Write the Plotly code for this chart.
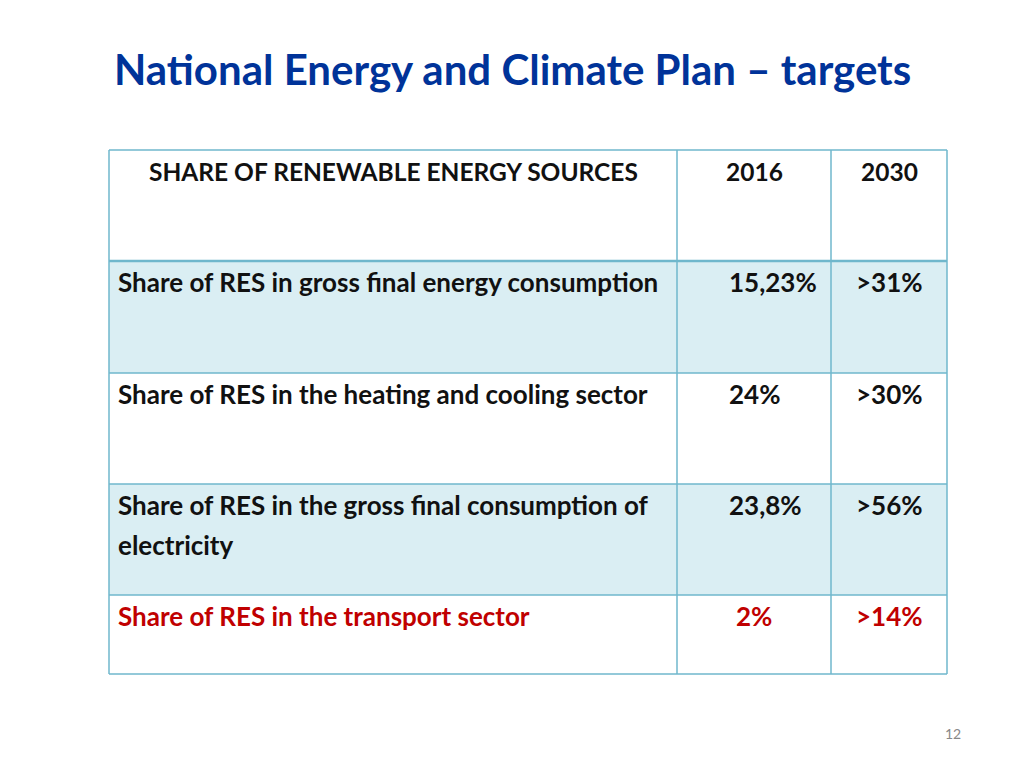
import plotly.graph_objects as go

# ---- data ----
title_text = "National Energy and Climate Plan – targets"
header_labels = ["SHARE OF RENEWABLE ENERGY SOURCES", "2016", "2030"]
categories = [
    "Share of RES in gross final energy consumption",
    "Share of RES in the heating and cooling sector",
    "Share of RES in the gross final consumption of<br>electricity",
    "Share of RES in the transport sector",
]
values_2016 = ["15,23%", "24%", "23,8%", "2%"]
values_2030 = [">31%", ">30%", ">56%", ">14%"]
highlight = [False, False, False, True]
page_number = "12"

# ---- layout constants ----
W, H = 1024, 768
OFF = 8  # default page body margin
col_edges = [109, 677, 831, 947]
row_heights = [111, 112, 111, 111, 79]
top = 150
row_edges = [top]
for h in row_heights:
    row_edges.append(row_edges[-1] + h)

border = "#6FB7CC"
shade = "#DAEEF3"
black = "#111111"
red = "#C00000"
blue = "#003399"
FONT = "Lato"
BODY = 26
HEAD = 24.5
LINE = 40
DY = 21

shapes = []
annotations = []

for i in range(len(row_heights)):
    fill = shade if i in (1, 3) else "white"
    shapes.append(dict(type="rect", xref="x", yref="y",
                       x0=col_edges[0], x1=col_edges[-1],
                       y0=row_edges[i], y1=row_edges[i + 1],
                       fillcolor=fill, line=dict(width=0), layer="below"))
for j, y in enumerate(row_edges):
    shapes.append(dict(type="line", xref="x", yref="y",
                       x0=col_edges[0], x1=col_edges[-1], y0=y, y1=y,
                       line=dict(color=border, width=2.5 if j == 1 else 1.5)))
for x in col_edges:
    shapes.append(dict(type="line", xref="x", yref="y",
                       x0=x, x1=x, y0=row_edges[0], y1=row_edges[-1],
                       line=dict(color=border, width=1.5)))


def txt(x, y, s, color, size, xanchor="center"):
    annotations.append(dict(x=x, y=y, xref="x", yref="y", text=s,
                            showarrow=False, xanchor=xanchor, yanchor="middle",
                            align="left",
                            font=dict(family=FONT, size=size, color=color, weight="bold")))


mid1 = (col_edges[1] + col_edges[2]) / 2
mid2 = (col_edges[2] + col_edges[3]) / 2
txt((col_edges[0] + col_edges[1]) / 2, row_edges[0] + DY, header_labels[0], black, HEAD)
txt(mid1, row_edges[0] + DY, header_labels[1], black, HEAD)
txt(mid2, row_edges[0] + DY, header_labels[2], black, HEAD)

for i, cat in enumerate(categories):
    c = red if highlight[i] else black
    yc = row_edges[i + 1] + DY
    for k, line in enumerate(cat.split("<br>")):
        txt(col_edges[0] + 7, yc + k * LINE, line, c, BODY, xanchor="left")
    v = values_2016[i]
    if len(v) >= 5:
        txt(col_edges[1] + 50, yc, v, c, BODY, xanchor="left")
    else:
        txt(mid1, yc, v, c, BODY)
    txt(mid2, yc, values_2030[i], c, BODY)

annotations.append(dict(x=112, y=69, xref="x", yref="y", text=title_text,
                        showarrow=False, xanchor="left", yanchor="middle",
                        font=dict(family=FONT, size=42, color=blue, weight="bold")))
annotations.append(dict(x=953, y=733, xref="x", yref="y", text=page_number,
                        showarrow=False, xanchor="center", yanchor="middle",
                        font=dict(family=FONT, size=14, color="#888888")))

fig = go.Figure()
fig.update_layout(
    width=W - OFF, height=H - OFF,
    margin=dict(l=0, r=0, t=0, b=0),
    paper_bgcolor="white", plot_bgcolor="white",
    xaxis=dict(range=[OFF, W], visible=False, fixedrange=True),
    yaxis=dict(range=[H, OFF], visible=False, fixedrange=True),
    shapes=shapes, annotations=annotations, showlegend=False,
)

fig.write_html("out.html")
